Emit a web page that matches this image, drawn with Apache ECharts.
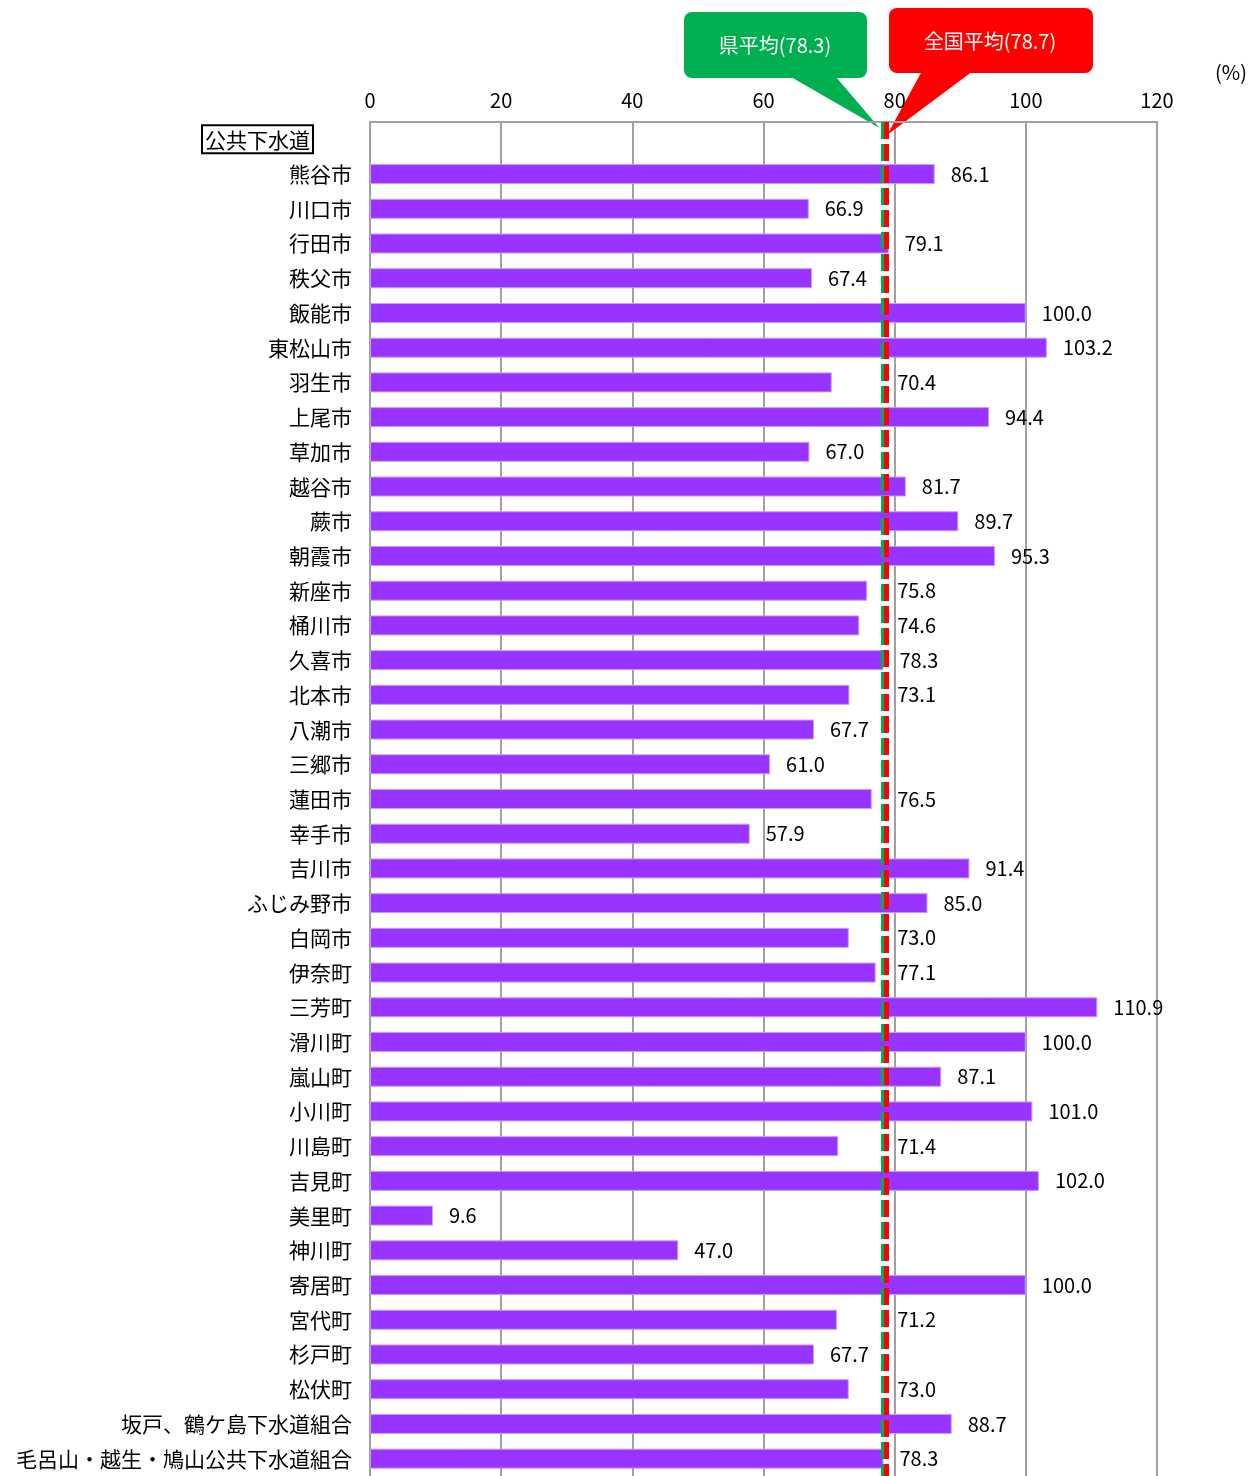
<!DOCTYPE html>
<html>
<head>
<meta charset="utf-8">
<script src="https://cdn.jsdelivr.net/npm/echarts@6/dist/echarts.min.js"></script>
<style>
  html, body { margin: 0; padding: 0; background: #fff; }
  #chart { width: 1249px; height: 1476px; }
</style>
</head>
<body>
<div id="chart"></div>
<script>
const FONT = "'Noto Sans CJK JP', 'Noto Sans', sans-serif"

const categories = [
  "公共下水道", "熊谷市", "川口市", "行田市", "秩父市", "飯能市", "東松山市", "羽生市", "上尾市",
  "草加市", "越谷市", "蕨市", "朝霞市", "新座市", "桶川市", "久喜市", "北本市", "八潮市",
  "三郷市", "蓮田市", "幸手市", "吉川市", "ふじみ野市", "白岡市", "伊奈町", "三芳町", "滑川町",
  "嵐山町", "小川町", "川島町", "吉見町", "美里町", "神川町", "寄居町", "宮代町", "杉戸町",
  "松伏町", "坂戸、鶴ケ島下水道組合", "毛呂山・越生・鳩山公共下水道組合"
]
const values = [
  null, 86.1, 66.9, 79.1, 67.4, 100.0, 103.2, 70.4, 94.4,
  67.0, 81.7, 89.7, 95.3, 75.8, 74.6, 78.3, 73.1, 67.7,
  61.0, 76.5, 57.9, 91.4, 85.0, 73.0, 77.1, 110.9, 100.0,
  87.1, 101.0, 71.4, 102.0, 9.6, 47.0, 100.0, 71.2, 67.7,
  73.0, 88.7, 78.3
]
const prefAvg = 78.3
const nationAvg = 78.7
const xTicks = { min: 0, max: 120, interval: 20 }

const chart = echarts.init(document.getElementById("chart"))
const gridTop = 122

const options = {
  backgroundColor: "#fff",
  animation: false,
  grid: { left: 370, right: 92, top: gridTop, bottom: 0 },
  xAxis: {
    type: "value",
    position: "top",
    min: xTicks.min,
    max: xTicks.max,
    interval: xTicks.interval,
    axisLine: { show: true, lineStyle: { color: "#a0a0a0", width: 2 } },
    axisTick: { show: false },
    axisLabel: { color: "#000", fontSize: 20, fontFamily: FONT, margin: 12 },
    splitLine: { show: true, lineStyle: { color: "#a0a0a0", width: 2 } },
  },
  yAxis: {
    type: "category",
    inverse: true,
    data: categories,
    axisLine: { show: true, lineStyle: { color: "#a0a0a0", width: 2 } },
    axisTick: { show: false },
    axisLabel: {
      color: "#000",
      fontSize: 21,
      fontFamily: FONT,
      margin: 18,
      interval: 0,
      formatter: (v) => (v === "公共下水道" ? "{box|" + v + "}{sp| }" : v),
      rich: {
        box: {
          fontSize: 21,
          fontFamily: FONT,
          color: "#000",
          borderColor: "#000",
          borderWidth: 2,
          padding: [4, 3, 3, 3],
        },
        sp: { width: 39 },
      },
    },
  },
  series: [
    {
      type: "bar",
      data: values.map((v) => (v === null ? "-" : v)),
      barWidth: 20,
      itemStyle: { color: "#9933FF", borderColor: "#c59cff", borderWidth: 1 },
      label: {
        show: true,
        position: "right",
        distance: 16,
        color: "#000",
        fontSize: 20,
        fontFamily: FONT,
        formatter: (p) => Number(p.value).toFixed(1),
      },
      markLine: {
        silent: true,
        symbol: "none",
        label: { show: false },
        animation: false,
        data: [
          { xAxis: prefAvg, lineStyle: { color: "#00B050", width: 5, type: [17, 5] } },
          { xAxis: nationAvg, lineStyle: { color: "#FF0000", width: 5, type: [17, 5] } },
        ],
      },
      z: 3,
    },
  ],
}

chart.setOption(options)

// push labels that would sit on the average lines to the right of them
const ctx = document.createElement("canvas").getContext("2d")
ctx.font = "20px " + FONT
const px = (v) => chart.convertToPixel({ xAxisIndex: 0 }, v)
const lineLeft = px(prefAvg) - 2
const lineRight = px(nationAvg) + 2
const barData = values.map((v) => {
  if (v === null) return "-"
  const start = px(v) + 16
  const w = ctx.measureText(v.toFixed(1)).width
  if (start < lineRight + 6 && start + w > lineLeft - 3) {
    return { value: v, label: { offset: [lineRight + 9 - start, 0] } }
  }
  return v
})

const gTip = [px(prefAvg) - 4, gridTop + 6]
const rTip = [px(nationAvg) + 1, gridTop + 13]

chart.setOption({
  series: [{ data: barData }],
  graphic: [
    {
      type: "polygon",
      shape: { points: [[791, 77], [836, 77], gTip] },
      style: { fill: "#00B050" },
    },
    {
      type: "rect",
      shape: { x: 684, y: 12, width: 183, height: 66, r: 8 },
      style: { fill: "#00B050" },
    },
    {
      type: "text",
      x: 775,
      y: 45,
      style: { text: "県平均(78.3)", fill: "#fff", fontSize: 20, fontFamily: FONT, align: "center", verticalAlign: "middle" },
    },
    {
      type: "polygon",
      shape: { points: [[922, 71], [973, 71], rTip] },
      style: { fill: "#FF0000" },
    },
    {
      type: "rect",
      shape: { x: 889, y: 8, width: 204, height: 65, r: 8 },
      style: { fill: "#FF0000" },
    },
    {
      type: "text",
      x: 990,
      y: 41,
      style: { text: "全国平均(78.7)", fill: "#fff", fontSize: 20, fontFamily: FONT, align: "center", verticalAlign: "middle" },
    },
    {
      type: "text",
      right: 2,
      top: 62,
      style: { text: "(%)", fill: "#000", fontSize: 20, fontFamily: FONT },
    },
  ],
})

window.addEventListener("resize", () => chart.resize())
</script>
</body>
</html>
